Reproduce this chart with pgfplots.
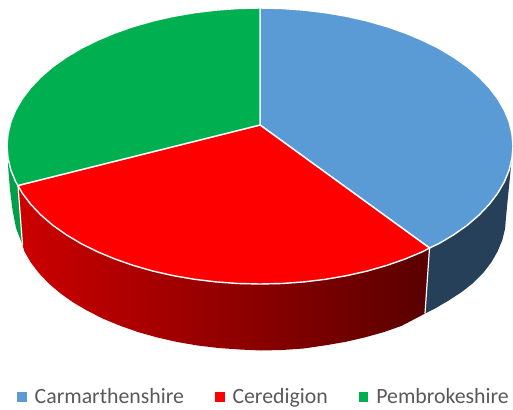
\documentclass[border=0pt]{standalone}
\usepackage{fontspec}
\setmainfont{Carlito}
\usepackage{pgfplots}
\pgfplotsset{compat=1.18}

\definecolor{blueface}{HTML}{5B9BD5}
\definecolor{bluewall}{HTML}{254058}
\definecolor{redface}{HTML}{FF0000}
\definecolor{greenface}{HTML}{00B050}
\definecolor{greenwall}{HTML}{00A04A}

\begin{document}
\begin{tikzpicture}
\useasboundingbox (0,0) rectangle (513pt,409pt);
\begin{axis}[
    scale only axis,
    width=513pt,
    height=409pt,
    xmin=0, xmax=513,
    ymin=0, ymax=409,
    y dir=reverse,
    hide axis,
    clip=false,
    legend image code/.code={\path[#1] (0pt,-4.7pt) rectangle (9.5pt,4.7pt);},
    legend cell align=left,
    legend style={
        at={(axis cs:263,397)}, anchor=center,
        legend columns=3,
        draw=none, fill=none,
        font=\fontsize{21.8}{24}\selectfont,
        text=black!65,
        nodes={inner xsep=0pt, inner ysep=0pt},
        /tikz/column 1/.style={column sep=8pt},
        /tikz/column 2/.style={column sep=31pt},
        /tikz/column 3/.style={column sep=8pt},
        /tikz/column 4/.style={column sep=31pt},
        /tikz/column 5/.style={column sep=8pt},
    },
]
\addlegendimage{fill=blueface, draw=none}
\addlegendimage{fill=redface, draw=none}
\addlegendimage{fill=greenface, draw=none}

% blue wall
\addplot[fill=bluewall, draw=none, forget plot] coordinates {
(429.5,248) (438.9,243.6) (453.8,234.7) (467.3,225.2) (479.1,215) (489.3,204.3)
(497.7,193.2) (504.4,181.7) (509.2,170) (512,158) (513,146)
(506,217) (505.1,228.6) (502.3,240.1) (497.6,251.4) (491.2,262.5) (483,273.2)
(473.2,283) (461.7,292) (448.7,300.5) (434.2,309) (425,313.5)
} -- cycle;

% red wall
\addplot[left color=red!80!black, right color=red!35!black, draw=none, forget plot] coordinates {
(429.5,248) (422.6,251.7) (405.1,259) (386.5,265.5) (366.9,271.1) (346.5,275.7)
(325.5,279.3) (303.9,281.9) (282.1,283.5) (260,284) (237.9,283.5) (216.1,281.9)
(194.5,279.3) (173.5,275.7) (153.1,271.1) (133.5,265.5) (114.9,259) (97.4,251.7)
(81.1,243.6) (66.2,234.7) (52.7,225.2) (40.9,215) (30.7,204.3) (22.3,193.2) (18,185.5)
(22.5,245) (24.4,251.4) (30.8,262.5) (39,273.2) (48.8,283.5) (60.3,293.3) (73.3,302.5)
(87.8,311) (103.5,318.9) (120.5,325.9) (138.5,332.2) (157.5,337.5) (177.2,342)
(197.6,345.5) (218.5,348) (239.6,349.5) (261,350.5) (282.4,350) (303.5,348.5)
(324.4,345.5) (344.8,342) (364.5,337.5) (383.5,332.2) (401.5,325.9) (418.5,317) (425,313.5)
} -- cycle;

% green wall
\addplot[fill=greenwall, draw=none, forget plot] coordinates {
(18,185.5) (15.6,181.7) (10.8,170) (8,158) (8,165) (10,190) (12.5,210) (16,228) (22.5,245)
} -- cycle;

% seams on the walls
\addplot[white, line width=1.2pt, forget plot] coordinates {(429.5,248) (425,313.5)};
\addplot[white, line width=1.2pt, forget plot] coordinates {(18,185.5) (22.5,245)};

% top faces
\addplot[fill=blueface, draw=white, line width=1.4pt, forget plot] coordinates {
(260,125) (260,8) (282.1,8.5) (303.9,10.1) (325.5,12.7) (346.5,16.3) (366.9,20.9)
(386.5,26.5) (405.1,33) (422.6,40.3) (438.9,48.4) (453.8,57.3) (467.3,66.8)
(479.1,77) (489.3,87.7) (497.7,98.8) (504.4,110.3) (509.2,122) (512,134) (513,146)
(512,158) (509.2,170) (504.4,181.7) (497.7,193.2) (489.3,204.3) (479.1,215)
(467.3,225.2) (453.8,234.7) (438.9,243.6) (429.5,248)
} -- cycle;
\addplot[fill=redface, draw=white, line width=1.4pt, forget plot] coordinates {
(260,125) (429.5,248) (422.6,251.7) (405.1,259) (386.5,265.5) (366.9,271.1) (346.5,275.7)
(325.5,279.3) (303.9,281.9) (282.1,283.5) (260,284) (237.9,283.5) (216.1,281.9)
(194.5,279.3) (173.5,275.7) (153.1,271.1) (133.5,265.5) (114.9,259) (97.4,251.7)
(81.1,243.6) (66.2,234.7) (52.7,225.2) (40.9,215) (30.7,204.3) (22.3,193.2) (18,185.5)
} -- cycle;
\addplot[fill=greenface, draw=white, line width=1.4pt, forget plot] coordinates {
(260,125) (18,185.5) (15.6,181.7) (10.8,170) (8,158) (7,146) (8,134) (10.8,122)
(15.6,110.3) (22.3,98.8) (30.7,87.7) (40.9,77) (52.7,66.8) (66.2,57.3) (81.1,48.4)
(97.4,40.3) (114.9,33) (133.5,26.5) (153.1,20.9) (173.5,16.3) (194.5,12.7)
(216.1,10.1) (237.9,8.5) (260,8)
} -- cycle;

\legend{Carmarthenshire,Ceredigion,Pembrokeshire}
\end{axis}
\end{tikzpicture}
\end{document}
